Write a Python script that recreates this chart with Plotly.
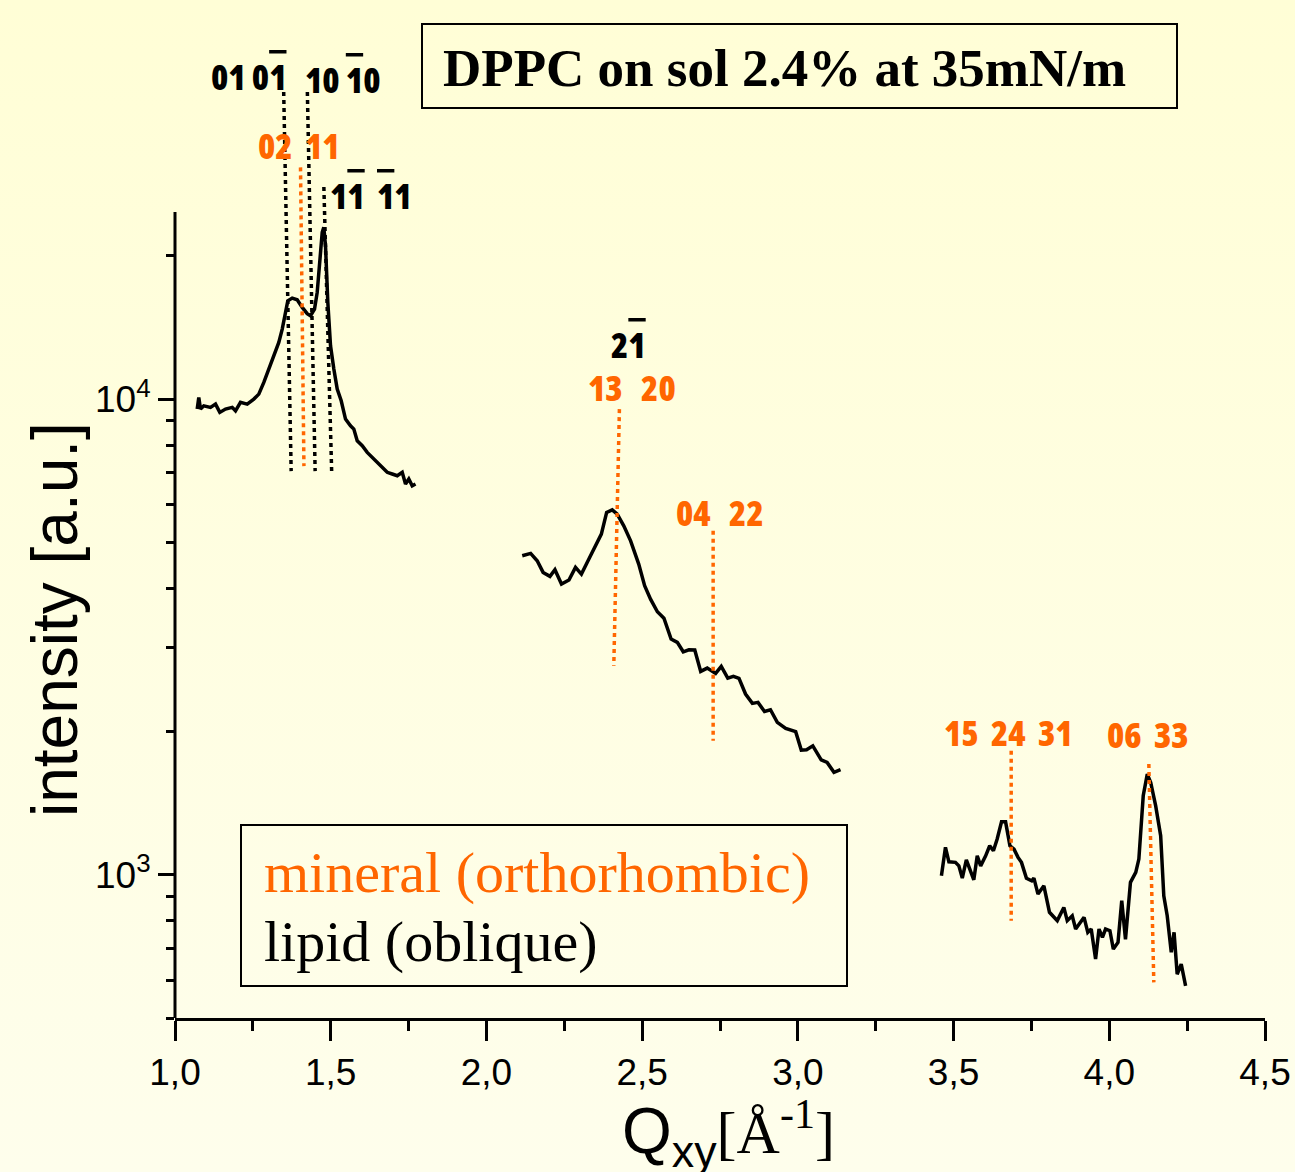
import base64
import math
import plotly.graph_objects as go

# ---------------- data ----------------
seg1_q = [1.0713, 1.0764, 1.0819, 1.0925, 1.1140, 1.1301, 1.1439, 1.1622, 1.1837, 1.1943,
          1.2103, 1.2319, 1.2531, 1.2691, 1.2852, 1.3012, 1.3173, 1.3333, 1.3443, 1.3549,
          1.3622, 1.3764, 1.3924, 1.4085, 1.4245, 1.4351, 1.4480, 1.4566, 1.4650, 1.4727,
          1.4778, 1.4833, 1.4907, 1.4994, 1.5100, 1.5209, 1.5337, 1.5475, 1.5636, 1.5742,
          1.5851, 1.6012, 1.6172, 1.6333, 1.6493, 1.6654, 1.6814, 1.6975, 1.7136, 1.7296,
          1.7402, 1.7508, 1.7617, 1.7723]
seg1_i = [9527, 10080, 9527, 9680, 9608, 9760, 9376, 9527, 9608, 9449,
          9842, 9760, 10000, 10244, 10842, 11565, 12331, 13158, 14036, 15215,
          16090, 16305, 16170, 15590, 15120, 14970, 15460, 16760, 19690, 22410,
          22960, 21010, 15970, 12940, 11565, 10495, 9918, 9078, 8789, 8649,
          8172, 7978, 7726, 7543, 7363, 7187, 7016, 6958, 6901, 7016,
          6628, 6790, 6573, 6628]

seg2_q = [2.115, 2.142, 2.163, 2.182, 2.204, 2.220, 2.241, 2.265, 2.286, 2.305,
          2.329, 2.350, 2.369, 2.386, 2.404, 2.420, 2.441, 2.463, 2.489, 2.508,
          2.527, 2.549, 2.570, 2.593, 2.613, 2.632, 2.650, 2.669, 2.688, 2.709,
          2.736, 2.754, 2.775, 2.793, 2.811, 2.832, 2.854, 2.872, 2.893, 2.912,
          2.934, 2.961, 2.993, 3.011, 3.028, 3.048, 3.075, 3.094, 3.116, 3.137]
seg2_i = [4684, 4738, 4573, 4322, 4240, 4378, 4085, 4165, 4429, 4288,
          4610, 4916, 5203, 5778, 5851, 5731, 5416, 5036, 4499, 4051,
          3798, 3572, 3464, 3130, 3080, 2943, 2972, 2968, 2677, 2720,
          2651, 2742, 2591, 2613, 2588, 2399, 2293, 2304, 2205, 2223,
          2092, 2032, 1999, 1829, 1832, 1867, 1745, 1723, 1642, 1663]

seg3_q = [3.461, 3.474, 3.485, 3.506, 3.517, 3.528, 3.541, 3.555, 3.565, 3.576,
          3.587, 3.603, 3.616, 3.628, 3.640, 3.654, 3.667, 3.681, 3.694, 3.707,
          3.718, 3.734, 3.751, 3.758, 3.771, 3.790, 3.808, 3.833, 3.854, 3.865,
          3.881, 3.892, 3.919, 3.931, 3.942, 3.956, 3.967, 3.978, 3.988, 4.002,
          4.013, 4.028, 4.040, 4.052, 4.068, 4.085, 4.095, 4.109, 4.122, 4.133,
          4.149, 4.165, 4.175, 4.186, 4.199, 4.208, 4.218, 4.231, 4.245]
seg3_i = [995, 1142, 1065, 1062, 1044, 984, 1075, 1019, 976, 1096,
          1044, 1096, 1151, 1123, 1189, 1292, 1292, 1151, 1132, 1088,
          1062, 983, 971, 984, 911, 948, 834, 801, 854, 801,
          820, 769, 814, 757, 769, 665, 769, 739, 769, 763,
          698, 721, 882, 732, 964, 1012, 1079, 1466, 1628, 1564,
          1396, 1208, 903, 820, 687, 757, 618, 649, 584]

# reflection marker lines (start / end points)
lipid_q0 = [1.349, 1.425, 1.478]
lipid_i0 = [44200, 44200, 27910]
lipid_q1 = [1.373, 1.450, 1.503]
lipid_i1 = [7056, 7056, 7056]

mineral_q0 = [1.403, 2.427, 2.728, 3.685, 4.127]
mineral_i0 = [30700, 9528, 5285, 1823, 1709]
mineral_q1 = [1.414, 2.409, 2.728, 3.685, 4.143]
mineral_i1 = [7230, 2750, 1913, 801, 594]


def bar(d):
    return '<span style="text-decoration:overline">%s</span>' % d


NB = "\u00a0"
lipid_labels = ["01" + NB + "0" + bar("1"), "10" + NB + bar("1") + "0",
                "1" + bar("1") + NB * 2 + bar("1") + "1", "2" + bar("1")]
lipid_label_q = [1.236, 1.541, 1.628, 2.456]
lipid_label_i = [47750, 47080, 26850, 13050]

mineral_labels = ["02" + NB * 2 + "11", "13" + NB * 3 + "20", "04" + NB * 3 + "22",
                  "15" + NB * 2 + "24" + NB * 2 + "31", "06" + NB * 2 + "33"]
mineral_label_q = [1.397, 2.466, 2.749, 3.677, 4.123]
mineral_label_i = [34120, 10600, 5788, 1995, 1976]

x_tickvals = [1.0, 1.5, 2.0, 2.5, 3.0, 3.5, 4.0, 4.5]
x_ticktext = ["1,0", "1,5", "2,0", "2,5", "3,0", "3,5", "4,0", "4,5"]
x_minor = [1.25, 1.75, 2.25, 2.75, 3.25, 3.75, 4.25]
y_tickvals = [1000, 10000]
y_ticktext = ["10<sup>3</sup>", "10<sup>4</sup>"]
y_minor = [500, 600, 700, 800, 900, 2000, 3000, 4000, 5000, 6000, 7000, 8000, 9000, 20000]

title_text = "DPPC on sol 2.4% at 35mN/m"
legend_mineral = "mineral (orthorhombic)"
legend_lipid = "lipid (oblique)"

# ---------------- layout geometry ----------------
W, H = 1295, 1172
ML, MR, MT, MB = 175, 30, 20, 154
PW, PH = W - ML - MR, H - MT - MB
Y_LOW = math.log10(500)
Y_HIGH = Y_LOW + PH / 475.7  # one decade ~ 475.7 px


def px(p):
    return (p - ML) / PW


def py(p):
    return (H - MB - p) / PH


ORANGE = "#FF6600"
BLACK = "#000000"
SANS = "Liberation Sans, Arial, sans-serif"
SERIF = "Liberation Serif, Times New Roman, serif"
LBL_FONT = "Open Sans, sans-serif"


def cond(t):
    return '<span style="font-stretch:75%%">%s</span>' % t


fig = go.Figure()

for q, i in [(seg1_q, seg1_i), (seg2_q, seg2_i), (seg3_q, seg3_i)]:
    fig.add_trace(go.Scatter(x=q, y=i, mode="lines",
                             line=dict(color=BLACK, width=3.5), showlegend=False,
                             hoverinfo="skip"))

for a, b, c, d in zip(lipid_q0, lipid_i0, lipid_q1, lipid_i1):
    fig.add_trace(go.Scatter(x=[a, c], y=[b, d], mode="lines",
                             line=dict(color=BLACK, width=3.5, dash="4px,4px"),
                             showlegend=False, hoverinfo="skip"))
for a, b, c, d in zip(mineral_q0, mineral_i0, mineral_q1, mineral_i1):
    fig.add_trace(go.Scatter(x=[a, c], y=[b, d], mode="lines",
                             line=dict(color=ORANGE, width=3.5, dash="4px,4px"),
                             showlegend=False, hoverinfo="skip"))

annotations = []
for t, q, i in zip(lipid_labels, lipid_label_q, lipid_label_i):
    annotations.append(dict(x=q, y=math.log10(i), xref="x", yref="y", text=cond(t),
                            showarrow=False, xanchor="center", yanchor="middle",
                            font=dict(family=LBL_FONT, size=35, color=BLACK, weight=800)))
for t, q, i in zip(mineral_labels, mineral_label_q, mineral_label_i):
    annotations.append(dict(x=q, y=math.log10(i), xref="x", yref="y", text=cond(t),
                            showarrow=False, xanchor="center", yanchor="middle",
                            font=dict(family=LBL_FONT, size=35, color=ORANGE, weight=800)))

# title box text
annotations.append(dict(x=px(441), y=py(68), xref="paper", yref="paper", text="<b>" + title_text + "</b>",
                        showarrow=False, xanchor="left", yanchor="middle",
                        font=dict(family=SERIF, size=53, color=BLACK)))
# legend texts
annotations.append(dict(x=px(262), y=py(872), xref="paper", yref="paper", text=legend_mineral,
                        showarrow=False, xanchor="left", yanchor="middle",
                        font=dict(family=SERIF, size=58, color=ORANGE)))
annotations.append(dict(x=px(262), y=py(941), xref="paper", yref="paper", text=legend_lipid,
                        showarrow=False, xanchor="left", yanchor="middle",
                        font=dict(family=SERIF, size=58, color=BLACK)))
# axis titles
annotations.append(dict(x=px(55), y=py(620), xref="paper", yref="paper", text="intensity [a.u.]",
                        showarrow=False, xanchor="center", yanchor="middle", textangle=-90,
                        font=dict(family=SANS, size=64, color=BLACK)))
annotations.append(dict(x=px(620), y=py(1133), xref="paper", yref="paper",
                        text="Q<sub>xy</sub><span style=\"font-family:Liberation Serif, serif; font-size:60px\">[Å<sup>-1</sup>]</span>",
                        showarrow=False, xanchor="left", yanchor="middle",
                        font=dict(family=SANS, size=64, color=BLACK)))

shapes = [
    dict(type="rect", xref="paper", yref="paper", x0=px(422), x1=px(1177), y0=py(24), y1=py(108),
         line=dict(color=BLACK, width=2), fillcolor="rgba(0,0,0,0)"),
    dict(type="rect", xref="paper", yref="paper", x0=px(241), x1=px(847), y0=py(825), y1=py(986),
         line=dict(color=BLACK, width=2), fillcolor="rgba(0,0,0,0)"),
    # y axis line (only up to the top of the data region)
    dict(type="line", xref="paper", yref="paper", x0=0, x1=0, y0=0, y1=py(212),
         line=dict(color=BLACK, width=3)),
]

svg = ('<svg xmlns="http://www.w3.org/2000/svg" width="10" height="100" preserveAspectRatio="none">'
       '<defs><linearGradient id="g" x1="0" y1="0" x2="0" y2="1">'
       '<stop offset="0" stop-color="#FFFED6"/><stop offset="1" stop-color="#FEFEEC"/>'
       '</linearGradient></defs><rect width="10" height="100" fill="url(#g)"/></svg>')
bg_src = "data:image/svg+xml;base64," + base64.b64encode(svg.encode()).decode()

fig.update_layout(
    template="none",
    width=W, height=H,
    margin=dict(l=ML, r=MR, t=MT, b=MB, pad=0, autoexpand=False),
    paper_bgcolor="#FEFEE2",
    plot_bgcolor="rgba(0,0,0,0)",
    showlegend=False,
    annotations=annotations,
    shapes=shapes,
    images=[dict(source=bg_src, xref="paper", yref="paper", x=px(0), y=py(0),
                 sizex=px(W) - px(0), sizey=py(0) - py(H), xanchor="left", yanchor="top",
                 sizing="stretch", layer="below")],
    xaxis=dict(range=[1.0, 4.5], showgrid=False, zeroline=False, automargin=False,
               showline=True, linecolor=BLACK, linewidth=3,
               ticks="outside", ticklen=20, tickwidth=3, tickcolor=BLACK,
               tickmode="array", tickvals=x_tickvals, ticktext=x_ticktext,
               tickfont=dict(family=SANS, size=37, color=BLACK),
               minor=dict(tickmode="array", tickvals=x_minor, ticks="outside",
                          ticklen=10, tickwidth=3, tickcolor=BLACK, showgrid=False)),
    yaxis=dict(type="log", range=[Y_LOW, Y_HIGH], showgrid=False, zeroline=False,
               showline=False, automargin=False,
               ticks="outside", ticklen=16, tickwidth=3, tickcolor=BLACK,
               tickmode="array", tickvals=y_tickvals, ticktext=y_ticktext,
               tickfont=dict(family=SANS, size=37, color=BLACK),
               minor=dict(tickmode="array", tickvals=y_minor, ticks="outside",
                          ticklen=8, tickwidth=3, tickcolor=BLACK, showgrid=False)),
)

fig.write_html("out.html")
